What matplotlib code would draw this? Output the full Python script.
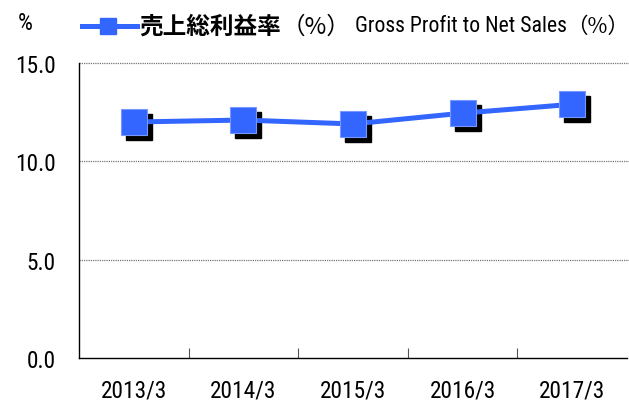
import matplotlib
matplotlib.use("Agg")
import matplotlib.pyplot as plt
from matplotlib import font_manager
from matplotlib.font_manager import FontProperties
from matplotlib.transforms import offset_copy
from matplotlib.lines import Line2D

years = ["2013/3", "2014/3", "2015/3", "2016/3", "2017/3"]
values = [12.0, 12.1, 11.9, 12.45, 12.9]
yticks = [0.0, 5.0, 10.0, 15.0]
ytick_labels = ["0.0", "5.0", "10.0", "15.0"]

# pick a condensed Latin face if one is installed
ttf = font_manager.fontManager.ttflist
narrow_fp = None
for cand in ["Liberation Sans Narrow", "Arial Narrow", "Roboto Condensed", "Open Sans Condensed"]:
    if any(f.name == cand for f in ttf):
        narrow_fp = FontProperties(family=cand)
        break
if narrow_fp is None:
    for fam in ["Noto Sans", "DejaVu Sans", "Open Sans", "Roboto"]:
        if any(f.name == fam and str(f.stretch) in ("condensed", "semi-condensed", "75", "87")
               for f in ttf):
            st = [f.stretch for f in ttf if f.name == fam and str(f.stretch) in ("condensed", "semi-condensed", "75", "87")][0]
            narrow_fp = FontProperties(family=fam, stretch=st)
            break
if narrow_fp is None:
    narrow_fp = FontProperties(family="Liberation Sans")
    narrow_size = 14.5
    legend_size = 13.6
else:
    narrow_size = 16.8
    legend_size = 15.7
cjk = "Noto Sans CJK JP"

W, H = 629, 402
fig = plt.figure(figsize=(W / 100, H / 100), dpi=100)
ax = fig.add_axes([79 / W, 1 - 359 / H, (627 - 79) / W, (359 - 64) / H])

blue = "#3366FF"
x = list(range(len(years)))
shadow = offset_copy(ax.transData, fig=fig, x=5, y=-5, units="dots")
ax.plot(x, values, linestyle="none", marker="s", markersize=18.5,
        color="black", transform=shadow, zorder=3, clip_on=False)
ax.plot(x, values, color=blue, linewidth=3.6, marker="s", markersize=18.5,
        markerfacecolor=blue, markeredgecolor="#7799FF", markeredgewidth=0.8,
        zorder=4, clip_on=False)

def tp(size):
    p = narrow_fp.copy()
    p.set_size(size)
    return p

ax.set_xlim(-0.5, len(years) - 0.5)
ax.set_ylim(0, 15)
ax.set_yticks(yticks)
ax.set_yticklabels(ytick_labels, fontproperties=tp(narrow_size))
ax.set_xticks(x)
ax.set_xticklabels(years, fontproperties=tp(narrow_size))
ax.set_xticks([i + 0.5 for i in x[:-1]], minor=True)
ax.tick_params(axis="x", which="major", length=0, pad=15)
ax.tick_params(axis="x", which="minor", direction="in", length=7, width=0.8, color="#555555")
ax.tick_params(axis="y", length=0, pad=17)

for yv in yticks[1:]:
    ax.add_line(Line2D([0, 1.01], [yv, yv], transform=ax.get_yaxis_transform(),
                       color="#777777", linewidth=0.9, linestyle=(0, (1, 0.8)),
                       clip_on=False, zorder=1))

for s in ["top", "right"]:
    ax.spines[s].set_visible(False)
for s in ["left", "bottom"]:
    ax.spines[s].set_linewidth(1.0)
    ax.spines[s].set_color("black")

# legend
ly = 1 - 27 / H
fig.text(25.5 / W, 1 - 23 / H, "%", fontproperties=tp(17), ha="center", va="center")
fig.add_artist(Line2D([82 / W, 137 / W], [ly, ly], color=blue, linewidth=3.6,
                      transform=fig.transFigure))
fig.add_artist(Line2D([108 / W], [ly], color=blue, marker="s", markersize=11,
                      linestyle="none", transform=fig.transFigure))
fig.text(139 / W, ly, "売上総利益率", fontfamily=cjk, fontsize=17,
         fontweight="bold", ha="left", va="center")
fig.text(282 / W, ly, "（%）", fontfamily=cjk, fontsize=17, ha="left", va="center")
fig.text(355 / W, ly, "Gross Profit to Net Sales", fontproperties=tp(legend_size),
         ha="left", va="center")
fig.text(628.5 / W, ly, "（%）", fontfamily=cjk, fontsize=15.5, ha="right", va="center")

fig.savefig("out.png", dpi=100)
